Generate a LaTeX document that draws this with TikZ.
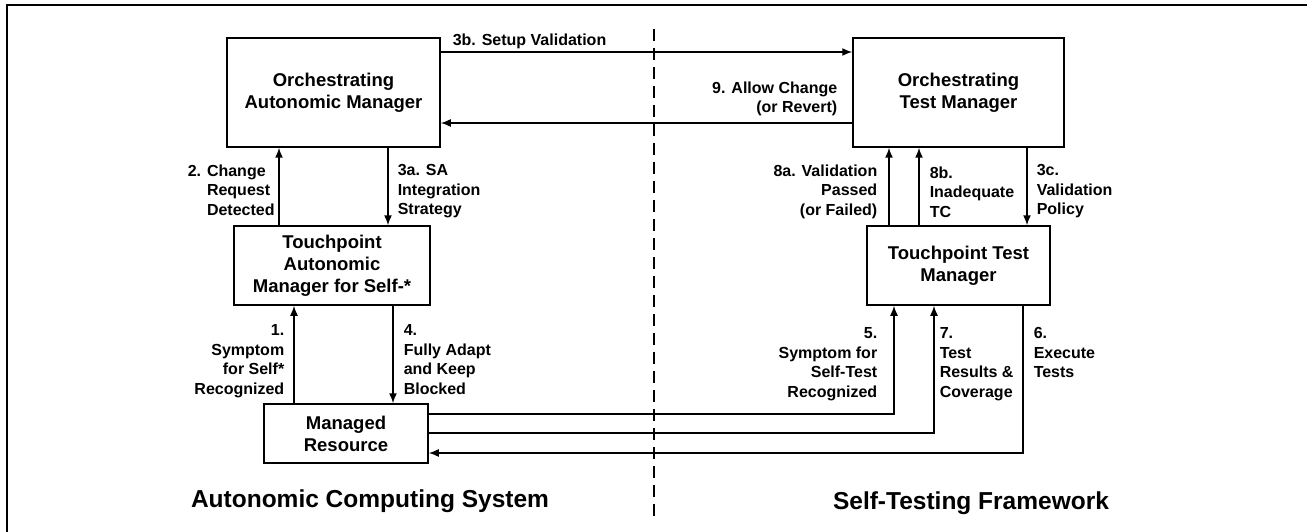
\documentclass[tikz,border=0pt]{standalone}
\usepackage{fontspec}
\setmainfont{Liberation Sans}
\usetikzlibrary{arrows.meta}
\begin{document}
\begin{tikzpicture}[x=1pt,y=-1pt,>={Latex[length=10pt,width=8pt]},line width=1.5pt,
		box/.style={draw,align=center,inner sep=0pt,font=\fontsize{18.5}{22}\selectfont\bfseries},
		lbl/.style={inner sep=0pt,font=\fontsize{16}{19.5}\selectfont\bfseries},
		lblr/.style={lbl,anchor=north east,align=right},
		lbll/.style={lbl,anchor=north west,align=left},
		ttl/.style={inner sep=0pt,font=\fontsize{24.5}{28}\selectfont\bfseries}]
				\useasboundingbox (0,0) rectangle (1307,532);
				\draw (7,532) -- (7,5) -- (1307,5);
				\draw[dashed,dash pattern=on 12pt off 7pt] (654,29) coordinate (dtop) -- (654,516) coordinate (dbot);
				\node[box,minimum width=213pt,minimum height=109pt] (oam) at (333.5,92.5) {Orchestrating\\Autonomic Manager};
				\node[box,minimum width=196pt,minimum height=79pt] (tam) at (332,265.5) {Touchpoint\\Autonomic\\Manager for Self-*};
				\node[box,minimum width=164pt,minimum height=59pt] (mr) at (346,433.5) {Managed\\Resource};
				\node[box,minimum width=211pt,minimum height=109pt] (otm) at (958.5,92.5) {Orchestrating\\Test Manager};
				\node[box,minimum width=183pt,minimum height=79pt] (ttm) at (958.5,265.5) {Touchpoint Test\\Manager};
				\draw[->] ([yshift=40.5pt]oam.east) -- ([yshift=40.5pt]otm.west);
				\draw[->] ([yshift=-30.5pt]otm.west) -- ([yshift=-30.5pt]oam.east);
				\draw[->] (tam.north -| 279,0) -- (oam.south -| 279,0);
				\draw[->] (oam.south -| 388,0) -- (tam.north -| 388,0);
				\draw[->] (mr.north -| 294,0) -- (tam.south -| 294,0);
				\draw[->] (tam.south -| 393,0) -- (mr.north -| 393,0);
				\draw[->] (ttm.north -| 889,0) -- (otm.south -| 889,0);
				\draw[->] (ttm.north -| 919,0) -- (otm.south -| 919,0);
				\draw[->] (otm.south -| 1027,0) -- (ttm.north -| 1027,0);
				\draw[->] (mr.east |- 0,414) -| (ttm.south -| 894,0);
				\draw[->] (mr.east |- 0,433) -| (ttm.south -| 934,0);
				\draw[->] (ttm.south -| 1023,0) |- (mr.east |- 0,453);
				\node[lbll] (l3b) at (452,33) {3b. Setup Validation};
				\node[lblr] (l9) at (838,81) {9. Allow Change\\(or Revert)};
				\node[lbll] (l2) at (187,164) {2. Change\\\phantom{2. }Request\\\phantom{2. }Detected};
				\node[lbll] (l3a) at (397,164) {3a. SA\\Integration\\Strategy};
				\node[lblr] (l8a) at (878,164) {8a. Validation\\Passed\\(or Failed)};
				\node[lbll] (l8b) at (929,166) {8b.\\Inadequate\\TC};
				\node[lbll] (l3c) at (1036,164) {3c.\\Validation\\Policy};
				\node[lblr] (l1) at (285,324) {1.\\Symptom\\for Self*\\Recognized};
				\node[lbll] (l4) at (403,324) {4.\\Fully Adapt\\and Keep\\Blocked};
				\node[lblr] (l5) at (878,327) {5.\\Symptom for\\Self-Test\\Recognized};
				\node[lbll] (l7) at (939,327) {7.\\Test\\Results \&\\Coverage};
				\node[lbll] (l6) at (1033,327) {6.\\Execute\\Tests};
				\node[ttl] (acs) at (370,501) {Autonomic Computing System};
				\node[ttl] (stf) at (971,503) {Self-Testing Framework};
			\end{tikzpicture}
\end{document}
